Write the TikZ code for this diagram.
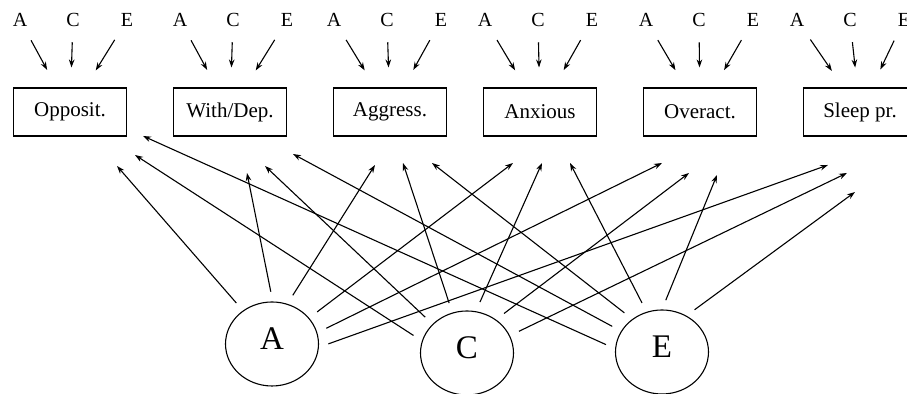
\documentclass[tikz,border=0pt]{standalone}
\usepackage{fontspec}
\setmainfont{Liberation Serif}
\usetikzlibrary{shapes.geometric,arrows.meta}
\begin{document}
\begin{tikzpicture}[x=0.5pt, y=-0.5pt, >={Stealth[length=4pt,width=2.8pt]}, line width=0.55pt,
    box/.style={draw, minimum width=56.5pt, minimum height=24pt, inner sep=0pt, font=\fontsize{10.5}{12}\selectfont},
    trait/.style={draw, ellipse, minimum width=46.5pt, minimum height=42pt, inner sep=0pt, text depth=5pt, font=\fontsize{16.5}{18}\selectfont},
    lab/.style={inner sep=0pt, font=\fontsize{10}{12}\selectfont}]
  \useasboundingbox (0,0) rectangle (907,394);

  % the six problem boxes
  \node[box] (opp) at (70,112) {Opposit.};
  \node[box] (wd)  at (230,112) {With/Dep.};
  \node[box] (agg) at (390,112) {Aggress.};
  \node[box] (anx) at (540,112) {Anxious};
  \node[box] (ovr) at (700,112) {Overact.};
  \node[box] (slp) at (860,112) {Sleep pr.};

  % A C E above every box
  \foreach \b/\g in {opp/73, wd/233, agg/387, anx/538, ovr/699, slp/850} {
    \node[lab] (\b-a) at (\g-53,20) {A};
    \node[lab] (\b-c) at (\g,20) {C};
    \node[lab] (\b-e) at (\g+54,20) {E};
    \foreach \t in {a,c,e}
      \draw[->, shorten <=7.5pt, shorten >=10pt] (\b-\t) -- (\b);
  }

  % the common factors
  \node[trait] (A) at (272,344) {A};
  \node[trait] (C) at (467,353) {C};
  \node[trait] (E) at (662,352) {E};

  % where the arrows stop under the boxes
  \coordinate (opp-hA) at (117,166);
  \coordinate (opp-hC) at (135,155);
  \coordinate (opp-hE) at (143,136);
  \coordinate (wd-hA)  at (247,173);
  \coordinate (wd-hC)  at (265,166);
  \coordinate (wd-hE)  at (293,154);
  \coordinate (agg-hA) at (375,165);
  \coordinate (agg-hC) at (403,163);
  \coordinate (agg-hE) at (432,163);
  \coordinate (anx-hA) at (513,163);
  \coordinate (anx-hC) at (542,163);
  \coordinate (anx-hE) at (570,163);
  \coordinate (ovr-hA) at (662,163);
  \coordinate (ovr-hC) at (689,173);
  \coordinate (ovr-hE) at (717,175);
  \coordinate (slp-hA) at (828,165);
  \coordinate (slp-hC) at (847,173);
  \coordinate (slp-hE) at (855,192);

  \foreach \s/\ang/\d in {A/131/opp, A/89/wd, A/69/agg, A/35/anx, A/14/ovr, A/-4/slp,
                          C/165/opp, C/140/wd, C/110/agg, C/78/anx, C/49/ovr, C/22/slp,
                          E/176/opp, E/153/wd, E/132/agg, E/111/anx, E/90/ovr, E/56/slp}
    \draw[->, shorten <=5pt] (\s.\ang) -- (\d-h\s);
\end{tikzpicture}
\end{document}
